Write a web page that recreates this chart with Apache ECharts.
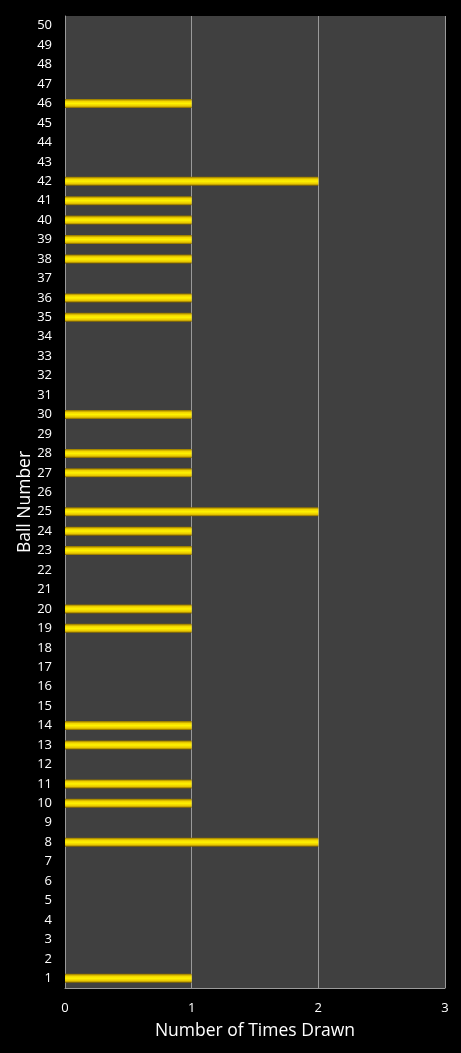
<!DOCTYPE html>
<html><head><meta charset="utf-8">
<script src="https://cdn.jsdelivr.net/npm/echarts@6/dist/echarts.min.js"></script>
<style>html,body{margin:0;padding:0;background:#000;}#c{width:461px;height:1053px;}</style>
</head><body><div id="c"></div>
<script>
const ballNumbers = Array.from({length:50},(_,i)=>String(i+1));
const drawnOnce = [1,10,11,13,14,19,20,23,24,27,28,30,35,36,38,39,40,41,46];
const drawnTwice = [8,25,42];
const timesDrawn = ballNumbers.map(n => drawnTwice.includes(+n) ? 2 : (drawnOnce.includes(+n) ? 1 : 0));
const xTicks = [0,1,2,3];
const yTitle = 'Ball Number';
const xTitle = 'Number of Times Drawn';

const chart = echarts.init(document.getElementById('c'));
const font = '"Open Sans", "DejaVu Sans", sans-serif';
chart.setOption({
  backgroundColor:'#000',
  animation:false,
  grid:{left:65,right:16,top:16,bottom:65,show:true,backgroundColor:'#404040',borderWidth:0},
  graphic:[{type:'text',x:25,y:502,rotation:Math.PI/2,
    style:{text:yTitle,fill:'#fff',font:'17.5px "Open Sans", sans-serif',align:'center',verticalAlign:'middle'}}],
  xAxis:{type:'value',min:0,max:3,interval:1,
    name:xTitle,nameLocation:'middle',nameGap:34,
    nameTextStyle:{color:'#fff',fontSize:17.5,fontFamily:font},
    axisLine:{show:true,lineStyle:{color:'#9a9a9a',width:1}},
    axisTick:{show:false},
    axisLabel:{color:'#fff',fontSize:13,fontFamily:font,margin:14},
    splitLine:{show:true,lineStyle:{color:'#9a9a9a',width:1}}
  },
  yAxis:{type:'category',data:ballNumbers,
    axisLine:{show:true,lineStyle:{color:'#9a9a9a',width:1}},
    axisTick:{show:false},
    axisLabel:{color:'#fff',fontSize:13,fontFamily:font,margin:13,interval:0},
    splitLine:{show:false}
  },
  series:[{type:'bar',data:timesDrawn.map(v => v === 0 ? null : v),barWidth:9,
    itemStyle:{borderWidth:0,
      color:new echarts.graphic.LinearGradient(0,0,0,1,[
        {offset:0,color:'#8a6d00'},
        {offset:0.25,color:'#f2d400'},
        {offset:0.5,color:'#fff200'},
        {offset:0.8,color:'#e6c400'},
        {offset:1,color:'#7a5e00'}])}
  }]
});
</script></body></html>
